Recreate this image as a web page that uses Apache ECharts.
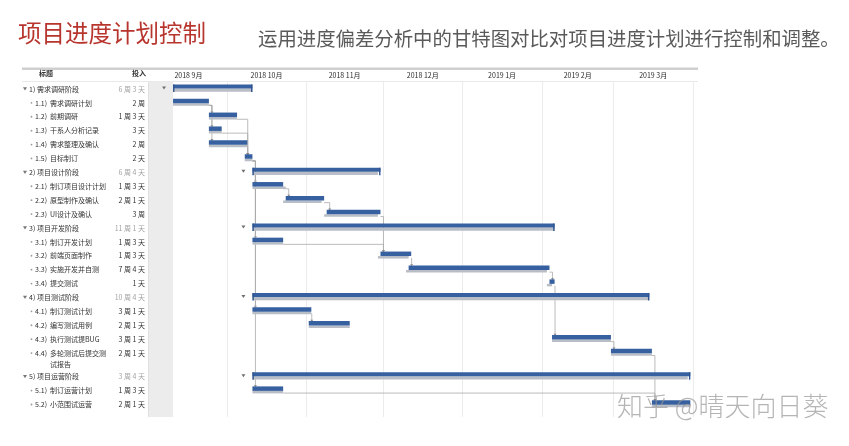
<!DOCTYPE html>
<html><head><meta charset="utf-8">
<script src="https://cdn.jsdelivr.net/npm/echarts@6/dist/echarts.min.js"></script>
<style>html,body{margin:0;padding:0;background:#fff}#c{width:849px;height:446px}</style>
</head><body><div id="c"></div>
<script>
// ---------- data ----------
const rowIds = ['1)','1.1)','1.2)','1.3)','1.4)','1.5)','2)','2.1)','2.2)','2.3)','3)','3.1)','3.2)','3.3)','3.4)','4)','4.1)','4.2)','4.3)','4.4)','5)','5.1)','5.2)'];
const rowNames = ['需求调研阶段','需求调研计划','前期调研','干系人分析记录','需求整理及确认','目标制订','项目设计阶段','制订项目设计计划','原型制作及确认','UI设计及确认','项目开发阶段','制订开发计划','前端页面制作','实施开发并自测','提交测试','项目测试阶段','制订测试计划','编写测试用例','执行测试提BUG','多轮测试后提交测\n试报告','项目运营阶段','制订运营计划','小范围试运营'];
const rowEfforts = ['6 周 3 天','2 周','1 周 3 天','3 天','2 周','2 天','6 周 4 天','1 周 3 天','2 周 1 天','3 周','11 周 1 天','1 周 3 天','1 周 3 天','7 周 4 天','1 天','10 周 4 天','3 周 1 天','2 周 1 天','3 周 1 天','2 周 1 天','3 周 4 天','1 周 3 天','2 周 1 天'];
const actualStart = ['2018-09-10','2018-09-10','2018-09-24','2018-09-24','2018-09-24','2018-10-08','2018-10-11','2018-10-11','2018-10-24','2018-11-09','2018-10-11','2018-10-11','2018-11-30','2018-12-11','2019-02-04','2018-10-11','2018-10-11','2018-11-02','2019-02-05','2019-02-28','2018-10-11','2018-10-11','2019-03-16'];
const actualEnd   = ['2018-10-11','2018-09-24','2018-10-05','2018-09-29','2018-10-09','2018-10-11','2018-11-30','2018-10-23','2018-11-08','2018-11-30','2019-02-06','2018-10-23','2018-12-12','2019-02-04','2019-02-06','2019-03-15','2018-11-03','2018-11-18','2019-02-28','2019-03-16','2019-03-31','2018-10-23','2019-03-31'];
const planStart   = ['2018-09-10','2018-09-10','2018-09-24','2018-09-24','2018-09-24','2018-10-08','2018-10-11','2018-10-11','2018-10-23','2018-11-08','2018-10-11','2018-10-11','2018-11-29','2018-12-10','2019-02-03','2018-10-11','2018-10-11','2018-11-02','2019-02-05','2019-02-28','2018-10-11','2018-10-11','2019-03-16'];
const planEnd     = ['2018-10-11','2018-09-24','2018-10-05','2018-09-29','2018-10-09','2018-10-11','2018-11-29','2018-10-24','2018-11-07','2018-11-29','2019-02-06','2018-10-23','2018-12-11','2019-02-03','2019-02-05','2019-03-15','2018-11-03','2018-11-18','2019-02-28','2019-03-16','2019-03-30','2018-10-23','2019-03-31'];
const links = [[1,2],[1,3],[1,4],[2,5],[3,5],[4,5],[5,7],[5,11],[5,16],[5,21],[7,8],[8,9],[9,12],[11,12],[12,13],[13,14],[14,18],[16,17],[18,19],[19,22],[21,22]];
const monthLabels = ['2018 9月','2018 10月','2018 11月','2018 12月','2019 1月','2019 2月','2019 3月'];
const monthBounds = ['2018-09-01','2018-10-01','2018-11-01','2018-12-01','2019-01-01','2019-02-01','2019-03-01','2019-04-01'];
const headTitle = '标题', headEffort = '投入';
const mainTitle = '项目进度计划控制';
const subTitle = '运用进度偏差分析中的甘特图对比对项目进度计划进行控制和调整。';
const watermark = '知乎 @晴天向日葵';
// ---------- helpers ----------
function t(s){const p=s.split('-');return new Date(+p[0],+p[1]-1,+p[2]).getTime();}
const rowY=[];let sh=0;rowNames.forEach((n,i)=>{rowY.push(i+sh);sh+=(n.split('\n').length-1)*0.7;});
const isGroup=rowIds.map(id=>id.indexOf('.')<0);
const FF='"Noto Sans CJK SC","Noto Sans",sans-serif';
const BLUE='#36609f', GRAY='#b9bdc5', LINE='#a9a9a9';
const chart=echarts.init(document.getElementById('c'),null,{renderer:'canvas'});
const X0=t('2018-09-01'), X1=t('2019-04-03');

const monthData=monthLabels.map((l,i)=>[t(monthBounds[i]),t(monthBounds[i+1]),0,i]);
const planData=rowIds.map((id,i)=>[t(planStart[i]),t(planEnd[i]),rowY[i],i]);
const actData=rowIds.map((id,i)=>[t(actualStart[i]),t(actualEnd[i]),rowY[i],i]);
const linkData=links.map(l=>[t(actualEnd[l[0]]),t(actualStart[l[1]]),rowY[l[0]],rowY[l[1]]]);
const tableData=rowIds.map((id,i)=>[X0,0,rowY[i],i]);

const option={
  animation:false,
  title:[
    {text:mainTitle,left:13,top:16,textStyle:{color:'#b8352e',fontSize:23.5,fontWeight:'normal',fontFamily:FF}},
    {text:subTitle,left:253,top:24,textStyle:{color:'#5a5a5a',fontSize:19.4,fontWeight:'normal',fontFamily:FF}}
  ],
  grid:{left:150,right:151,top:82,bottom:29},
  xAxis:{type:'time',min:X0,max:X1,show:false,splitLine:{show:false}},
  yAxis:{type:'value',inverse:true,min:-0.5,max:23.6,show:false,splitLine:{show:false}},
  graphic:[
    {type:'rect',shape:{x:22,y:67.5,width:676,height:2.5},style:{fill:'#cfcfcf'},z:1},
    {type:'rect',shape:{x:22,y:81,width:676,height:0.8},style:{fill:'#e2e2e2'},z:1},
    {type:'rect',shape:{x:148,y:82,width:25,height:335},style:{fill:'#ececec'},z:0},
    {type:'rect',shape:{x:148,y:82,width:0.8,height:335},style:{fill:'#dcdcdc'},z:0},
    {type:'text',left:39,top:70,style:{text:headTitle,fill:'#333',font:'bold 7px '+FF},z:5},
    {type:'text',left:132,top:70,style:{text:headEffort,fill:'#333',font:'bold 7px '+FF},z:5},
    {type:'text',left:617,top:393,style:{text:watermark,fill:'rgba(150,150,150,0.7)',font:'300 26px '+FF},z:50}
  ],
  series:[
    {type:'custom',name:'months',clip:false,z:1,data:monthData,encode:{x:[0,1],y:2},
     renderItem(p,api){
       const cs=p.coordSys;const a=api.coord([api.value(0),0])[0],b=api.coord([api.value(1),0])[0];
       const l=Math.max(a,cs.x),r=Math.min(b,cs.x+cs.width);
       const ch=[{type:'text',style:{text:monthLabels[api.value(3)],x:(l+r)/2,y:75.5,fill:'#2a2a2a',font:'7px '+FF,align:'center',verticalAlign:'middle'}}];
       ch.push({type:'line',shape:{x1:Math.round(b)+0.5,y1:82,x2:Math.round(b)+0.5,y2:417},style:{stroke:'#ececec',lineWidth:1}});
       return {type:'group',children:ch};
     }},
    {type:'custom',name:'links',clip:false,z:2,data:linkData,
     renderItem(p,api){
       const x1=api.coord([api.value(0),0])[0],x2=api.coord([api.value(1),0])[0];
       const y1=api.coord([0,api.value(2)])[1]+2.5,y2=api.coord([0,api.value(3)])[1]-4;
       let pts;const xm=x2+3;
       if(xm>=x1){pts=[[x1,y1],[xm,y1],[xm,y2]];}
       else{const ym=(y1+y2)/2+3;pts=[[x1,y1],[x1+3,y1],[x1+3,ym],[xm,ym],[xm,y2]];}
       return {type:'group',children:[
         {type:'polyline',shape:{points:pts},style:{stroke:LINE,lineWidth:0.8,fill:null}},
         {type:'polygon',shape:{points:[[xm-1.5,y2-1.5],[xm+1.5,y2-1.5],[xm,y2+0.5]]},style:{fill:'#8a8a8a'}}
       ]};
     }},
    {type:'custom',name:'plan',clip:false,z:3,data:planData,encode:{x:[0,1],y:2},
     renderItem(p,api){
       const s=api.coord([api.value(0),api.value(2)]),e=api.coord([api.value(1),api.value(2)]);
       const g=isGroup[api.value(3)];
       return {type:'rect',shape:{x:s[0],y:s[1]+(g?-0.5:0.3),width:e[0]-s[0],height:g?3.2:2.5},style:{fill:GRAY}};
     }},
    {type:'custom',name:'actual',clip:false,z:4,data:actData,encode:{x:[0,1],y:2},
     renderItem(p,api){
       const s=api.coord([api.value(0),api.value(2)]),e=api.coord([api.value(1),api.value(2)]);
       const i=api.value(3),g=isGroup[i];
       const ch=[{type:'rect',shape:{x:s[0],y:s[1]+(g?-4.5:-4.2),width:e[0]-s[0],height:g?4:4.5},style:{fill:BLUE}}];
       if(g){
         ch.push({type:'rect',shape:{x:s[0],y:s[1]-4.5,width:1.4,height:7.5},style:{fill:'#2f5590'}});
         ch.push({type:'rect',shape:{x:e[0]-1.4,y:s[1]-4.5,width:1.4,height:7.5},style:{fill:'#2f5590'}});
         const tx=s[0]-9,ty=s[1]-1;
         ch.push({type:'polygon',shape:{points:[[tx-2,ty-1.5],[tx+2,ty-1.5],[tx,ty+1.5]]},style:{fill:'#707070'}});
       }
       return {type:'group',children:ch};
     }},
    {type:'custom',name:'table',clip:false,z:5,data:tableData,encode:{x:0,y:2},
     renderItem(p,api){
       const i=api.value(3),c=api.coord([api.value(0),api.value(2)])[1],g=isGroup[i];
       const ch=[];const f='7px '+FF;
       if(g){
         ch.push({type:'polygon',shape:{points:[[23,c-1.6],[27,c-1.6],[25,c+1.6]]},style:{fill:'#777'}});
         ch.push({type:'text',style:{text:rowIds[i],x:29,y:c,fill:'#333',font:f,verticalAlign:'middle'}});
       }else{
         ch.push({type:'circle',shape:{cx:31.5,cy:c,r:0.9},style:{fill:'#999'}});
         ch.push({type:'text',style:{text:rowIds[i],x:35,y:c,fill:'#333',font:f,verticalAlign:'middle'}});
       }
       const lines=rowNames[i].split('\n');
       lines.forEach((ln,k)=>ch.push({type:'text',style:{text:ln,x:g?37:50,y:c+k*11,fill:'#333',font:f,verticalAlign:'middle'}}));
       ch.push({type:'text',style:{text:rowEfforts[i],x:145,y:c,fill:g?'#a3a3a3':'#333',font:f,align:'right',verticalAlign:'middle'}});
       return {type:'group',children:ch};
     }}
  ]
};
chart.setOption(option);
</script></body></html>
